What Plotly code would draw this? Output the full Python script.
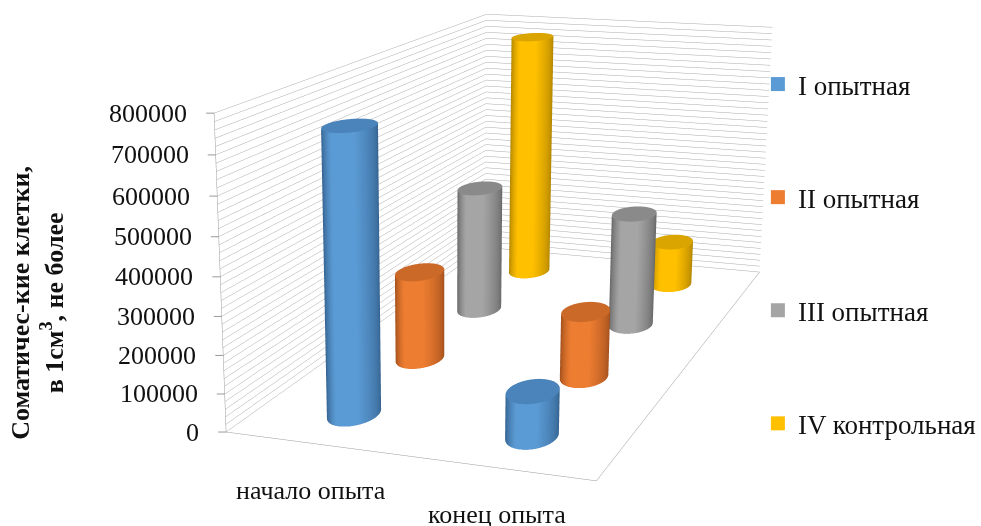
import numpy as np
import plotly.graph_objects as go

categories = ["начало опыта", "конец опыта"]
series_names = ["I опытная", "II опытная", "III опытная", "IV контрольная"]
series_I = [745000, 117000]
series_II = [250000, 184000]
series_III = [377000, 337000]
series_IV = [767000, 139000]
series_values = [series_I, series_II, series_III, series_IV]
z_labels = [0, 100000, 200000, 300000, 400000, 500000, 600000, 700000, 800000]
colors = ["#5B9BD5", "#ED7D31", "#A5A5A5", "#FFC000"]
dark = ["#2F5A85", "#97491A", "#5E5E5E", "#A67C00"]
top = ["#4A84BA", "#CB6A28", "#8A8A8A", "#DAA500"]
series_depth = [0.06, 1.0, 2.0, 2.92]
series_side = [0.017, 0.0, -0.014, 0.0]

FIG_W, FIG_H, TOP_OFFSET = 981, 1516, 418
asp = dict(x=1.0, y=2.076, z=0.8384)
eye = dict(x=1.584, y=-5.054, z=1.221)
x_lo, x_hi = -0.5, 1.5
y_lo, y_hi = -0.387, 3.387
rx_scene, ry_scene = 0.065, 0.105
rx = rx_scene * (x_hi - x_lo) / asp["x"]
ry = ry_scene * (y_hi - y_lo) / asp["y"]


def paper_y(page_y):
    return 1 - (page_y + TOP_OFFSET) / FIG_H


flat = dict(ambient=1, diffuse=0, specular=0, fresnel=0)
fig = go.Figure()
th = np.linspace(0, 2 * np.pi, 121)

for si, (vals, c, d, t) in enumerate(zip(series_values, colors, dark, top)):
    for ci, v in enumerate(vals):
        cx, cy = ci + series_side[si], series_depth[si]
        # shading follows the direction towards the camera for this cylinder
        sx = (cx - (x_lo + x_hi) / 2) / (x_hi - x_lo) * asp["x"]
        sy = (cy - (y_lo + y_hi) / 2) / (y_hi - y_lo) * asp["y"]
        dx, dy = eye["x"] - sx, eye["y"] - sy
        dn = np.hypot(dx, dy)
        nx, ny = np.cos(th) / rx_scene, np.sin(th) / ry_scene
        nn = np.hypot(nx, ny)
        shade = np.clip((nx * dx + ny * dy) / (nn * dn), 0, 1)
        X = np.array([cx + rx * np.cos(th)] * 2)
        Y = np.array([cy + ry * np.sin(th)] * 2)
        Z = np.array([np.zeros_like(th), np.full_like(th, float(v))])
        fig.add_trace(go.Surface(x=X, y=Y, z=Z, surfacecolor=np.array([shade, shade]), cmin=0, cmax=1,
                                 colorscale=[[0, d], [0.85, c], [1, c]], showscale=False,
                                 lighting=flat, hoverinfo="skip"))
        rr = np.array([0, 1.0])
        CX = cx + rx * np.outer(rr, np.cos(th))
        CY = cy + ry * np.outer(rr, np.sin(th))
        fig.add_trace(go.Surface(x=CX, y=CY, z=np.full_like(CX, float(v)), surfacecolor=np.zeros_like(CX),
                                 cmin=0, cmax=1, colorscale=[[0, t], [1, t]], showscale=False,
                                 lighting=flat, hoverinfo="skip"))

for name, c in zip(series_names, colors):
    fig.add_trace(go.Scatter(x=[None], y=[None], mode="markers", name=name, legendgroup=name,
                             marker=dict(symbol="square", size=14, color=c)))

scene_notes = []
for z in z_labels:
    anchor_z = min(z, 799999)
    scene_notes.append(dict(x=x_lo, y=y_lo, z=anchor_z, text=str(z), showarrow=False, xanchor="right", yanchor="middle",
                            xshift=-25, font=dict(family="Liberation Serif", size=26, color="#111")))
    scene_notes.append(dict(x=x_lo, y=y_lo, z=anchor_z, text=" ", showarrow=True, arrowhead=0, arrowwidth=1,
                            arrowcolor="#999", ax=-10, ay=0, standoff=0,
                            font=dict(family="Liberation Serif", size=2)))
for ci, (cat, xs) in enumerate(zip(categories, [-3, -2])):
    scene_notes.append(dict(x=ci, y=y_lo, z=0, text=cat, showarrow=False, xshift=xs, yshift=-47,
                            font=dict(family="Liberation Serif", size=26, color="#111")))

zvals = list(range(0, 800001, 20000))
axis_common = dict(showbackground=False, zeroline=False, showspikes=False, ticks="", title="",
                   showticklabels=False, showline=True, linecolor="#999", linewidth=1)
fig.update_layout(
    template="none", width=FIG_W, height=FIG_H, margin=dict(l=0, r=0, t=0, b=0),
    paper_bgcolor="white", plot_bgcolor="white", showlegend=True,
    xaxis=dict(visible=False), yaxis=dict(visible=False),
    legend=dict(x=761 / FIG_W, y=paper_y(60), xanchor="left", yanchor="top", tracegroupgap=75,
                bgcolor="rgba(0,0,0,0)", font=dict(family="Liberation Serif", size=27, color="#111"),
                itemclick=False, itemdoubleclick=False),
    scene=dict(
        domain=dict(x=[0, 894 / FIG_W], y=[0, 1]), bgcolor="white",
        aspectmode="manual", aspectratio=asp,
        camera=dict(eye=eye, center=dict(x=-0.196, y=-0.210, z=-0.376),
                    up=dict(x=0, y=0, z=1), projection=dict(type="perspective")),
        xaxis=dict(range=[x_lo, x_hi], tickvals=[0, 1], showgrid=False, **axis_common),
        yaxis=dict(range=[y_lo, y_hi], tickvals=[], showgrid=False, **axis_common),
        zaxis=dict(range=[0, 800000], tickvals=zvals, showgrid=True, gridcolor="#aaaaaa", gridwidth=1, **axis_common),
        annotations=scene_notes,
    ),
    annotations=[dict(text="<b>Соматичес-кие клетки,<br>в 1см<sup>3</sup>, не более</b>", xref="paper", yref="paper",
                      x=37 / FIG_W, y=paper_y(303), xanchor="center", yanchor="middle", showarrow=False, textangle=-90,
                      font=dict(family="Liberation Serif", size=26, color="#111"))],
)
post = ("var g=document.getElementById('{plot_id}');document.body.style.margin='0';"
        "document.body.style.overflow='hidden';g.style.marginTop='-%dpx';" % TOP_OFFSET)
fig.write_html("out.html", post_script=post)
